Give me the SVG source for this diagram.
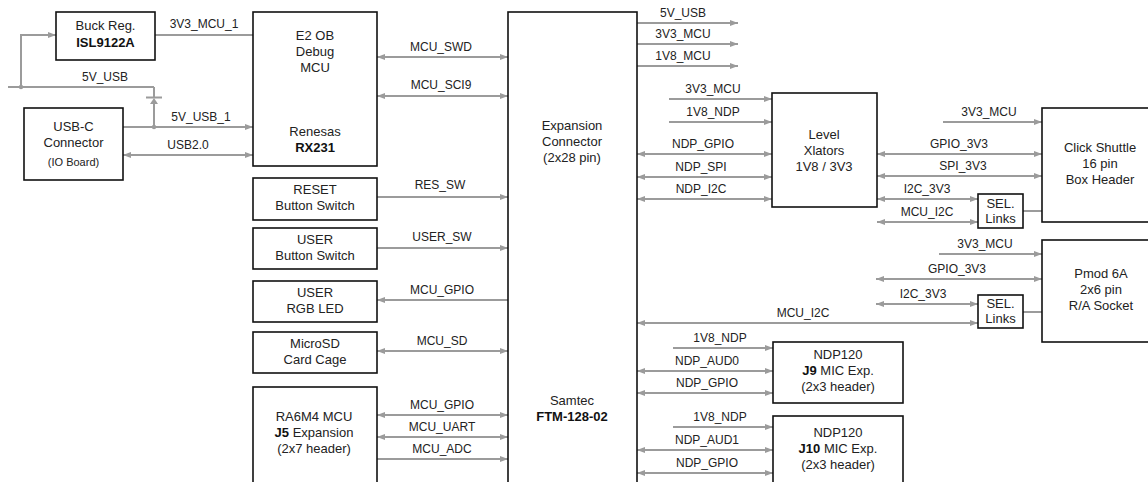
<svg xmlns="http://www.w3.org/2000/svg" width="1148" height="482" viewBox="0 0 1148 482">
<style>
.box{fill:#fff;stroke:#111;stroke-width:1.6}
.ln{fill:none;stroke:#9b9b9b;stroke-width:2}
.e{marker-end:url(#ah)}
.b{marker-start:url(#ah);marker-end:url(#ah)}
text{font-family:"Liberation Sans",Arial,sans-serif;fill:#222;text-anchor:middle}
.t{font-size:13px}
.l{font-size:12px}
.s{font-size:11px}
.bd{font-weight:bold;fill:#111}
</style>
<defs>
<marker id="ah" viewBox="0 0 8 6" refX="8" refY="3" markerWidth="8" markerHeight="6" markerUnits="userSpaceOnUse" orient="auto-start-reverse">
<path d="M0,0 L8,3 L0,6 z" fill="#9b9b9b"/>
</marker>
</defs>
<rect width="1148" height="482" fill="#fff"/>

<g id="connectors">
<path class="ln" d="M8,87 H154"/>
<text class="l" x="105" y="81">5V_USB</text>
<path class="ln e" d="M21,87 V35 H56"/>
<circle cx="21" cy="87" r="2.2" fill="#9b9b9b"/>
<path class="ln" d="M155,35 H253"/>
<text class="l" x="204" y="28">3V3_MCU_1</text>
<path class="ln" d="M154,87 V97.5 M146,97.5 H162 M154,103 V127"/>
<polygon points="150,104 158,104 154,98" fill="#9b9b9b"/>
<circle cx="154" cy="127" r="2.2" fill="#9b9b9b"/>
<path class="ln e" d="M123,127 H253"/>
<text class="l" x="201" y="121">5V_USB_1</text>
<path class="ln b" d="M123,155 H253"/>
<text class="l" x="188" y="149">USB2.0</text>

<path class="ln b" d="M377,57 H508"/>
<text class="l" x="441" y="51">MCU_SWD</text>
<path class="ln b" d="M377,96 H508"/>
<text class="l" x="441" y="89">MCU_SCI9</text>
<path class="ln e" d="M377,197 H508"/>
<text class="l" x="440" y="189">RES_SW</text>
<path class="ln e" d="M377,248 H508"/>
<text class="l" x="442" y="241">USER_SW</text>
<path class="ln e" d="M508,300 H377"/>
<text class="l" x="442" y="294">MCU_GPIO</text>
<path class="ln b" d="M377,351 H508"/>
<text class="l" x="442" y="345">MCU_SD</text>
<path class="ln b" d="M377,415 H508"/>
<text class="l" x="442" y="409">MCU_GPIO</text>
<path class="ln b" d="M377,437 H508"/>
<text class="l" x="442" y="431">MCU_UART</text>
<path class="ln e" d="M377,459 H508"/>
<text class="l" x="442" y="453">MCU_ADC</text>

<path class="ln e" d="M637,23 H738"/>
<text class="l" x="683" y="17">5V_USB</text>
<path class="ln e" d="M637,44 H738"/>
<text class="l" x="683" y="38">3V3_MCU</text>
<path class="ln e" d="M637,66 H738"/>
<text class="l" x="683" y="60">1V8_MCU</text>
<path class="ln e" d="M669,99 H772"/>
<text class="l" x="713" y="93">3V3_MCU</text>
<path class="ln e" d="M669,122 H772"/>
<text class="l" x="713" y="116">1V8_NDP</text>
<path class="ln b" d="M637,154 H772"/>
<text class="l" x="703" y="148">NDP_GPIO</text>
<path class="ln b" d="M637,177 H772"/>
<text class="l" x="701" y="171">NDP_SPI</text>
<path class="ln b" d="M637,199 H772"/>
<text class="l" x="701" y="193">NDP_I2C</text>

<path class="ln e" d="M943,122 H1042"/>
<text class="l" x="989" y="116">3V3_MCU</text>
<path class="ln b" d="M877,154 H1042"/>
<text class="l" x="959" y="148">GPIO_3V3</text>
<path class="ln b" d="M877,176 H1042"/>
<text class="l" x="963" y="170">SPI_3V3</text>
<path class="ln b" d="M877,199 H978"/>
<text class="l" x="927" y="193">I2C_3V3</text>
<path class="ln b" d="M877,222 H978"/>
<text class="l" x="927" y="216">MCU_I2C</text>
<path class="ln" d="M1023,211 H1042"/>

<path class="ln e" d="M939,254 H1042"/>
<text class="l" x="985" y="248">3V3_MCU</text>
<path class="ln b" d="M876,279 H1042"/>
<text class="l" x="957" y="273">GPIO_3V3</text>
<path class="ln b" d="M876,304 H978"/>
<text class="l" x="923" y="298">I2C_3V3</text>
<path class="ln b" d="M637,323 H978"/>
<text class="l" x="803" y="317">MCU_I2C</text>
<path class="ln" d="M1023,312 H1042"/>

<path class="ln e" d="M673,348 H773"/>
<text class="l" x="720" y="342">1V8_NDP</text>
<path class="ln b" d="M637,371 H773"/>
<text class="l" x="707" y="365">NDP_AUD0</text>
<path class="ln b" d="M637,393 H773"/>
<text class="l" x="707" y="387">NDP_GPIO</text>
<path class="ln e" d="M673,427 H773"/>
<text class="l" x="720" y="421">1V8_NDP</text>
<path class="ln b" d="M637,450 H773"/>
<text class="l" x="707" y="444">NDP_AUD1</text>
<path class="ln b" d="M637,473 H773"/>
<text class="l" x="707" y="467">NDP_GPIO</text>
</g>

<g id="buck">
<rect class="box" x="56" y="12" width="99" height="48"/>
<text class="t" x="105.5" y="30">Buck Reg.</text>
<text class="t bd" x="105.5" y="47">ISL9122A</text>
</g>
<g id="usbc">
<rect class="box" x="24" y="108" width="99" height="72"/>
<text class="t" x="73.5" y="131">USB-C</text>
<text class="t" x="73.5" y="147">Connector</text>
<text class="s" x="73.5" y="166">(IO Board)</text>
</g>
<g id="e2ob">
<rect class="box" x="253" y="12" width="124" height="154"/>
<text class="t" x="315" y="40">E2 OB</text>
<text class="t" x="315" y="56">Debug</text>
<text class="t" x="315" y="72">MCU</text>
<text class="t" x="315" y="136">Renesas</text>
<text class="t bd" x="315" y="152">RX231</text>
</g>
<g id="reset">
<rect class="box" x="253" y="178" width="124" height="42"/>
<text class="t" x="315" y="194">RESET</text>
<text class="t" x="315" y="210">Button Switch</text>
</g>
<g id="user">
<rect class="box" x="253" y="228" width="124" height="41"/>
<text class="t" x="315" y="244">USER</text>
<text class="t" x="315" y="260">Button Switch</text>
</g>
<g id="rgb">
<rect class="box" x="253" y="281" width="124" height="41"/>
<text class="t" x="315" y="297">USER</text>
<text class="t" x="315" y="313">RGB LED</text>
</g>
<g id="microsd">
<rect class="box" x="253" y="332" width="124" height="41"/>
<text class="t" x="315" y="348">MicroSD</text>
<text class="t" x="315" y="364">Card Cage</text>
</g>
<g id="ra6m4">
<rect class="box" x="253" y="387" width="124" height="110"/>
<text class="t" x="314" y="421">RA6M4 MCU</text>
<text class="t" x="314" y="437"><tspan class="bd">J5</tspan> Expansion</text>
<text class="t" x="314" y="453">(2x7 header)</text>
</g>
<g id="expansion">
<rect class="box" x="508" y="12" width="129" height="485"/>
<text class="t" x="572" y="130">Expansion</text>
<text class="t" x="572" y="146">Connector</text>
<text class="t" x="572" y="162">(2x28 pin)</text>
<text class="t" x="572" y="405">Samtec</text>
<text class="t bd" x="572" y="421">FTM-128-02</text>
</g>
<g id="level">
<rect class="box" x="772" y="93" width="105" height="114"/>
<text class="t" x="824" y="139">Level</text>
<text class="t" x="824" y="155">Xlators</text>
<text class="t" x="824" y="171">1V8 / 3V3</text>
</g>
<g id="click">
<rect class="box" x="1042" y="108" width="120" height="114"/>
<text class="t" x="1100" y="152">Click Shuttle</text>
<text class="t" x="1100" y="168">16 pin</text>
<text class="t" x="1100" y="184">Box Header</text>
</g>
<g id="sel1">
<rect class="box" x="978" y="194" width="45" height="34"/>
<text class="t" x="1000.5" y="208">SEL.</text>
<text class="t" x="1000.5" y="223">Links</text>
</g>
<g id="pmod">
<rect class="box" x="1042" y="240" width="120" height="102"/>
<text class="t" x="1101" y="278">Pmod 6A</text>
<text class="t" x="1101" y="294">2x6 pin</text>
<text class="t" x="1101" y="310">R/A Socket</text>
</g>
<g id="sel2">
<rect class="box" x="978" y="295" width="45" height="33"/>
<text class="t" x="1000.5" y="308">SEL.</text>
<text class="t" x="1000.5" y="323">Links</text>
</g>
<g id="j9">
<rect class="box" x="773" y="342" width="130" height="61"/>
<text class="t" x="838" y="359">NDP120</text>
<text class="t" x="838" y="375"><tspan class="bd">J9</tspan> MIC Exp.</text>
<text class="t" x="838" y="391">(2x3 header)</text>
</g>
<g id="j10">
<rect class="box" x="773" y="416" width="130" height="80"/>
<text class="t" x="838" y="437">NDP120</text>
<text class="t" x="838" y="453"><tspan class="bd">J10</tspan> MIC Exp.</text>
<text class="t" x="838" y="469">(2x3 header)</text>
</g>
</svg>
